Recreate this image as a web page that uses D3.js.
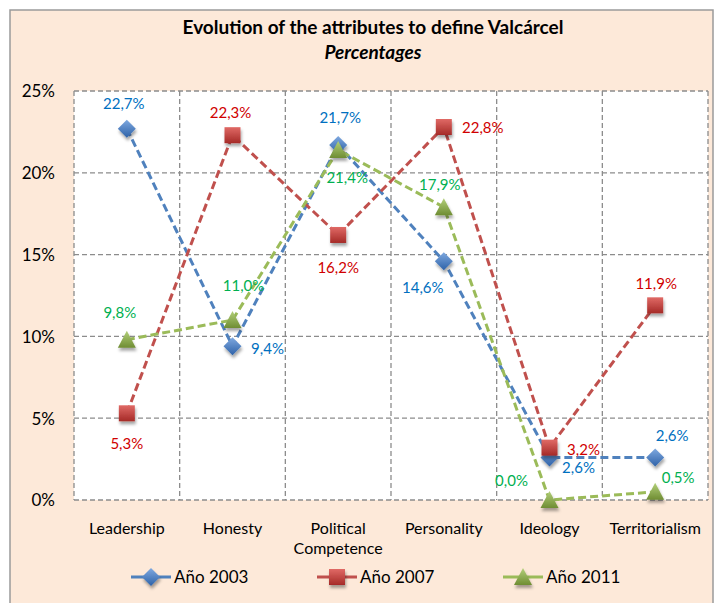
<!DOCTYPE html>
<html>
<head>
    <script type="text/javascript" src="https://cdn.jsdelivr.net/npm/d3@7"></script>
    <style>
        body { margin: 0; background: #fff; }
        text { font-family: Lato, "Open Sans", sans-serif; }
    </style>
</head>

<body>
    <div id="viz"></div>
    <script type="text/javascript">

    var categories = ["Leadership", "Honesty", "Political Competence", "Personality", "Ideology", "Territorialism"];
    var years = ["Año 2003", "Año 2007", "Año 2011"];
    var v2003 = [22.7, 9.4, 21.7, 14.6, 2.6, 2.6];
    var v2007 = [5.3, 22.3, 16.2, 22.8, 3.2, 11.9];
    var v2011 = [9.8, 11.0, 21.4, 17.9, 0.0, 0.5];
    var yTicks = [0, 5, 10, 15, 20, 25];

    var series = [
        {name: years[0], values: v2003, line: "#4f81bd", text: "#0070c0", shape: "diamond"},
        {name: years[1], values: v2007, line: "#c0504d", text: "#d00000", shape: "square"},
        {name: years[2], values: v2011, line: "#9bbb59", text: "#00b050", shape: "triangle"}
    ];

    // label offsets (dx, dy) per point, picked by eye
    var labelOffsets = [
        [[-3, -25], [35, 3], [2, -27], [-21, 27], [29, 10], [17, -22]],
        [[0, 30], [-2, -22], [0, 33], [39, 1], [34, 2], [1, -22]],
        [[-7, -27], [11, -34], [9, 28], [-4, -22], [-38, -19], [23, -14]]
    ];

    var W = 718, H = 603;
    var pLeft = 74, pRight = 708, pTop = 91, pBottom = 500;

    var svg = d3.select("#viz").append("svg")
        .attr("width", W)
        .attr("height", H);

    var defs = svg.append("defs");
    var shadow = defs.append("filter").attr("id", "shadow")
        .attr("x", "-50%").attr("y", "-50%").attr("width", "200%").attr("height", "200%");
    shadow.append("feDropShadow")
        .attr("dx", 1).attr("dy", 3).attr("stdDeviation", 1.5)
        .attr("flood-color", "#000").attr("flood-opacity", 0.35);

    function grad(id, c1, c2) {
        var g = defs.append("linearGradient").attr("id", id)
            .attr("x1", 0).attr("y1", 0).attr("x2", 0).attr("y2", 1);
        g.append("stop").attr("offset", "0%").attr("stop-color", c1);
        g.append("stop").attr("offset", "100%").attr("stop-color", c2);
    }
    grad("g-diamond", "#7fa9e0", "#2e62a8");
    grad("g-square", "#e06a66", "#a52a27");
    grad("g-triangle", "#b3d07a", "#6f8d33");

    // outer frame
    svg.append("rect")
        .attr("x", 10).attr("y", 10)
        .attr("width", 703).attr("height", 600)
        .attr("fill", "#fde9d9")
        .attr("stroke", "#9a9a9a")
        .attr("stroke-width", 1.5);

    svg.append("text")
        .attr("x", 373).attr("y", 34)
        .attr("text-anchor", "middle")
        .style("font-size", "19px").style("font-weight", "bold")
        .text("Evolution of the attributes to define Valcárcel");
    svg.append("text")
        .attr("x", 373).attr("y", 59)
        .attr("text-anchor", "middle")
        .style("font-size", "19px").style("font-weight", "bold").style("font-style", "italic")
        .text("Percentages");

    var x = d3.scaleBand().domain(categories).range([pLeft, pRight]);
    var y = d3.scaleLinear().domain([0, 25]).range([pBottom, pTop]);

    svg.append("rect")
        .attr("x", pLeft).attr("y", pTop)
        .attr("width", pRight - pLeft).attr("height", pBottom - pTop)
        .attr("fill", "#fff");

    var grid = svg.append("g")
        .attr("stroke", "#8c8c8c")
        .attr("stroke-width", 1.3)
        .attr("stroke-dasharray", "5,3");

    grid.selectAll("line.h")
        .data(yTicks)
        .enter().append("line")
        .attr("class", "h")
        .attr("x1", pLeft).attr("x2", pRight)
        .attr("y1", function(d){return y(d)})
        .attr("y2", function(d){return y(d)});

    var vlines = categories.map(function(c){return x(c)}).concat([pRight]);
    grid.selectAll("line.v")
        .data(vlines)
        .enter().append("line")
        .attr("class", "v")
        .attr("y1", pTop).attr("y2", pBottom)
        .attr("x1", function(d){return d})
        .attr("x2", function(d){return d});

    // y axis labels
    var yAxis = d3.axisLeft(y)
        .tickValues(yTicks)
        .tickSize(0)
        .tickPadding(19)
        .tickFormat(function(d){return d + "%"});
    var ya = svg.append("g")
        .attr("transform", "translate(" + pLeft + ",0)")
        .call(yAxis);
    ya.select(".domain").remove();
    ya.selectAll("text")
        .style("font-size", "17px")
        .attr("fill", "#000")
        .attr("dy", "0.35em");

    // x axis labels
    var xAxis = d3.axisBottom(x).tickSize(0).tickPadding(0);
    var xa = svg.append("g")
        .attr("transform", "translate(0," + pBottom + ")")
        .call(xAxis);
    xa.select(".domain").remove();
    xa.selectAll(".tick text").remove();
    xa.selectAll(".tick").each(function(d){
        var t = d3.select(this).append("text")
            .attr("text-anchor", "middle")
            .attr("fill", "#000")
            .style("font-size", "16px");
        var words = d === "Political Competence" ? ["Political", "Competence"] : [d];
        words.forEach(function(w, i){
            t.append("tspan").attr("x", 0).attr("y", 34 + i * 20).text(w);
        });
    });

    function markerPath(shape) {
        if (shape === "diamond") return "M0,-9L9,0L0,9L-9,0Z";
        if (shape === "square") return "M-8,-8H8V8H-8Z";
        return "M0,-9L9,8H-9Z";
    }

    var line = d3.line()
        .x(function(d, i){return x(categories[i]) + x.bandwidth() / 2})
        .y(function(d){return y(d)});

    series.forEach(function(s, si){
        svg.append("path")
            .datum(s.values)
            .attr("fill", "none")
            .attr("stroke", s.line)
            .attr("stroke-width", 3)
            .attr("stroke-dasharray", "8,4")
            .attr("d", line);
    });

    series.forEach(function(s, si){
        svg.append("g").selectAll("path")
            .data(s.values)
            .enter().append("path")
            .attr("d", markerPath(s.shape))
            .attr("fill", "url(#g-" + s.shape + ")")
            .attr("filter", "url(#shadow)")
            .attr("transform", function(d, i){
                return "translate(" + (x(categories[i]) + x.bandwidth() / 2) + "," + y(d) + ")";
            });
    });

    series.forEach(function(s, si){
        svg.append("g").selectAll("text")
            .data(s.values)
            .enter().append("text")
            .attr("text-anchor", "middle")
            .attr("dy", "0.35em")
            .attr("fill", s.text)
            .style("font-size", "15px")
            .attr("x", function(d, i){return x(categories[i]) + x.bandwidth() / 2 + labelOffsets[si][i][0]})
            .attr("y", function(d, i){return y(d) + labelOffsets[si][i][1]})
            .text(function(d){return d3.format(".1f")(d).replace(".", ",") + "%"});
    });

    // legend
    var legendX = [131, 317, 503];
    var lg = svg.append("g").attr("transform", "translate(0,577)");
    series.forEach(function(s, si){
        var g = lg.append("g").attr("transform", "translate(" + legendX[si] + ",0)");
        g.append("line")
            .attr("x1", 0).attr("x2", 40)
            .attr("stroke", s.line).attr("stroke-width", 3);
        g.append("path")
            .attr("d", markerPath(s.shape))
            .attr("fill", "url(#g-" + s.shape + ")")
            .attr("filter", "url(#shadow)")
            .attr("transform", "translate(20,0)");
        g.append("text")
            .attr("x", 43)
            .attr("dy", "0.35em")
            .style("font-size", "17px")
            .attr("fill", "#000")
            .text(s.name);
    });

    </script>
</body>
</html>
